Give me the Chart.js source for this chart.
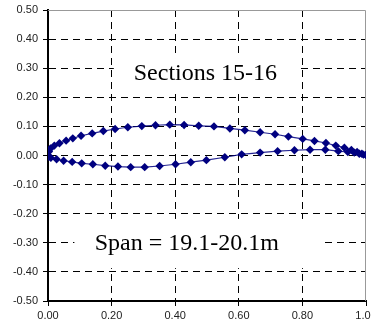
<!DOCTYPE html>
<html>
<head>
<meta charset="utf-8">
<script src="https://cdn.jsdelivr.net/npm/chart.js@4"></script>
<style>
  html, body { margin: 0; padding: 0; background: #fff; }
  #wrap { width: 371px; height: 324px; }
</style>
</head>
<body>
<div id="wrap"><canvas id="airfoil-chart" width="371" height="324"></canvas></div>
<script>
// upper surface, trailing edge -> leading edge
const upperX = [1.0, 0.987, 0.972, 0.954, 0.932, 0.905, 0.874, 0.838, 0.801, 0.756, 0.714, 0.667, 0.619, 0.572, 0.522, 0.474, 0.428, 0.383, 0.338, 0.295, 0.251, 0.211, 0.174, 0.139, 0.104, 0.078, 0.057, 0.036, 0.020, 0.008, 0.003, 0.0];
const upperY = [0.002, 0.006, 0.012, 0.019, 0.027, 0.034, 0.043, 0.050, 0.057, 0.065, 0.073, 0.080, 0.087, 0.093, 0.100, 0.102, 0.105, 0.106, 0.104, 0.101, 0.097, 0.091, 0.084, 0.076, 0.068, 0.059, 0.051, 0.042, 0.034, 0.024, 0.014, 0.0];
// lower surface, leading edge -> trailing edge
const lowerX = [0.002, 0.009, 0.027, 0.049, 0.076, 0.106, 0.141, 0.180, 0.220, 0.260, 0.304, 0.351, 0.401, 0.449, 0.498, 0.556, 0.609, 0.667, 0.722, 0.775, 0.824, 0.872, 0.913, 0.943, 0.963, 0.979, 0.992, 1.0];
const lowerY = [-0.004, -0.008, -0.013, -0.018, -0.022, -0.027, -0.030, -0.035, -0.038, -0.040, -0.040, -0.036, -0.030, -0.023, -0.016, -0.006, 0.004, 0.010, 0.015, 0.018, 0.020, 0.020, 0.015, 0.012, 0.010, 0.006, 0.003, 0.002];

const titleText = "Sections 15-16";
const spanText = "Span = 19.1-20.1m";

const navy = "#000080";

const points = [];
upperX.forEach((x, i) => points.push({ x: x, y: upperY[i] }));
lowerX.forEach((x, i) => points.push({ x: x, y: lowerY[i] }));

function fmt(v) {
  if (Math.abs(v) < 1e-9) v = 0;
  return v.toFixed(2);
}

// white label boxes that hide the grid, plus the grey plot frame
const labelBoxes = {
  id: "labelBoxes",
  beforeDatasetsDraw(chart) {
    const { ctx, scales: { x, y }, chartArea } = chart;
    ctx.save();
    ctx.fillStyle = "#fff";
    // Sections box
    let l = x.getPixelForValue(0.207), r = x.getPixelForValue(0.795);
    let t = y.getPixelForValue(0.335), b = y.getPixelForValue(0.225);
    ctx.fillRect(l, t, r - l, b - t);
    // Span box
    l = x.getPixelForValue(0.083); r = x.getPixelForValue(0.858);
    t = y.getPixelForValue(-0.218); b = y.getPixelForValue(-0.387);
    ctx.fillRect(l, t, r - l, b - t);

    ctx.fillStyle = "#000";
    ctx.font = "24px 'Liberation Serif', 'Times New Roman', serif";
    ctx.textBaseline = "middle";
    ctx.textAlign = "center";
    ctx.fillText(titleText, x.getPixelForValue(0.495), y.getPixelForValue(0.28));
    ctx.textAlign = "left";
    ctx.fillText(spanText, x.getPixelForValue(0.147), y.getPixelForValue(-0.302));

    // grey frame on top and right
    ctx.strokeStyle = "#999";
    ctx.lineWidth = 1;
    ctx.beginPath();
    ctx.moveTo(chartArea.left, chartArea.top + 0.5);
    ctx.lineTo(chartArea.right - 0.5, chartArea.top + 0.5);
    ctx.lineTo(chartArea.right - 0.5, chartArea.bottom);
    ctx.stroke();
    ctx.restore();
  }
};

const tickFont = { family: "'Liberation Sans', Arial, sans-serif", size: 11 };

new Chart(document.querySelector("#airfoil-chart").getContext("2d"), {
  type: "scatter",
  data: {
    datasets: [{
      data: points,
      showLine: true,
      borderColor: "rgba(0,0,128,0.85)",
      backgroundColor: navy,
      borderWidth: 1.2,
      pointStyle: "rectRot",
      pointRadius: 4.2,
      pointBorderWidth: 0,
      pointBackgroundColor: navy,
      tension: 0
    }]
  },
  options: {
    responsive: false,
    animation: false,
    events: [],
    layout: { padding: { top: 10, right: 5, left: 0, bottom: 0 } },
    plugins: { legend: { display: false }, tooltip: { enabled: false } },
    scales: {
      x: {
        type: "linear",
        min: 0,
        max: 1,
        ticks: { stepSize: 0.2, callback: (v) => fmt(v), color: "#222", font: tickFont, padding: 3, maxRotation: 0 },
        grid: {
          color: (c) => (c.tick && (c.tick.value > 0.99 || c.tick.value < 0.01) ? "rgba(0,0,0,0)" : "#000"),
          lineWidth: 1,
          tickLength: 5,
          tickColor: "#000",
          tickBorderDash: [],
          drawTicks: true
        },
        border: { display: true, color: "#000", width: 2, dash: [7, 5] },
        afterFit: (s) => { s.height = 23; s.paddingLeft = 0; s.paddingRight = 0; }
      },
      y: {
        type: "linear",
        min: -0.5,
        max: 0.5,
        ticks: { stepSize: 0.1, callback: (v) => fmt(v), color: "#222", font: tickFont, padding: 5 },
        grid: {
          color: (c) => (c.tick && (c.tick.value > 0.49 || c.tick.value < -0.49) ? "rgba(0,0,0,0)" : "#000"),
          lineWidth: 1,
          tickLength: 5,
          tickColor: "#000",
          tickBorderDash: [],
          drawTicks: true
        },
        border: { display: true, color: "#000", width: 2, dash: [7, 5] },
        afterFit: (s) => { s.width = 48; s.paddingTop = 0; s.paddingBottom = 0; }
      }
    }
  },
  plugins: [labelBoxes]
});
</script>
</body>
</html>
